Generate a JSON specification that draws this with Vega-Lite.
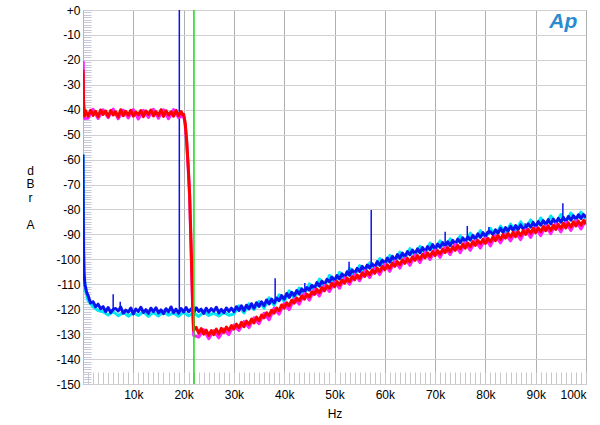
{
  "$schema": "https://vega.github.io/schema/vega-lite/v6.json",
  "width": 503,
  "height": 374,
  "autosize": "none",
  "padding": {"left": 83, "top": 10, "right": 14, "bottom": 41},
  "background": "white",
  "config": {"view": {"stroke": "#9a9a9a", "strokeWidth": 1}},
  "datasets": {
    "blue": [
      {"f":0,"v":-58},{"f":100,"v":-96},{"f":200,"v":-105},{"f":300,"v":-108},{"f":400,"v":-110.5},{"f":500,"v":-111},{"f":700,"v":-113},{"f":1000,"v":-114.5},{"f":1500,"v":-117.5},{"f":2000,"v":-117},{"f":2500,"v":-119},{"f":3000,"v":-118},{"f":3500,"v":-119.8},{"f":4000,"v":-119},{"f":4500,"v":-121},
      {"f":5000,"v":-119.3},{"f":5500,"v":-121.4},{"f":6000,"v":-120.1},{"f":6500,"v":-119.7},{"f":7000,"v":-120.7},{"f":7500,"v":-119.1},{"f":8000,"v":-121.6},{"f":8500,"v":-120.4},{"f":9000,"v":-121.2},{"f":9500,"v":-119.5},
      {"f":10000,"v":-121.9},{"f":10500,"v":-119.9},{"f":11000,"v":-120.9},{"f":11500,"v":-119.2},{"f":12000,"v":-121.3},{"f":12500,"v":-120.2},{"f":13000,"v":-121.7},{"f":13500,"v":-119.6},{"f":14000,"v":-121.0},{"f":14500,"v":-119.4},{"f":15000,"v":-121.5},{"f":15500,"v":-120.3},{"f":16000,"v":-121.8},{"f":16500,"v":-119.8},{"f":17000,"v":-121.1},{"f":17500,"v":-119.1},{"f":18000,"v":-121.4},{"f":18500,"v":-120.0},{"f":19000,"v":-121.6},{"f":19500,"v":-119.7},
      {"f":20000,"v":-121.1},{"f":20500,"v":-119.3},{"f":21000,"v":-121.0},{"f":21500,"v":-119.9},{"f":22000,"v":-121.3},{"f":22500,"v":-119.4},{"f":23000,"v":-120.9},{"f":23500,"v":-120.0},{"f":24000,"v":-121.7},{"f":24500,"v":-119.6},{"f":25000,"v":-121.2},{"f":25500,"v":-119.8},{"f":26000,"v":-120.8},{"f":26500,"v":-119.2},{"f":27000,"v":-121.5},{"f":27500,"v":-120.1},{"f":28000,"v":-121.4},{"f":28500,"v":-119.5},{"f":29000,"v":-120.9},{"f":29500,"v":-119.6},
      {"f":30000,"v":-121.0},{"f":30500,"v":-119.0},{"f":31000,"v":-120.5},{"f":31500,"v":-118.6},{"f":32000,"v":-120.6},{"f":32500,"v":-118.4},{"f":33000,"v":-119.9},{"f":33500,"v":-117.8},{"f":34000,"v":-119.6},{"f":34500,"v":-117.4},{"f":35000,"v":-118.9},{"f":35500,"v":-117.0},{"f":36000,"v":-118.6},{"f":36500,"v":-116.3},{"f":37000,"v":-117.9},{"f":37500,"v":-115.9},{"f":38000,"v":-117.5},{"f":38500,"v":-115.5},{"f":39000,"v":-116.6},{"f":39500,"v":-114.5},
      {"f":40000,"v":-116.0},{"f":40500,"v":-113.7},{"f":41000,"v":-115.3},{"f":41500,"v":-113.2},{"f":42000,"v":-114.6},{"f":42500,"v":-112.5},{"f":43000,"v":-114.0},{"f":43500,"v":-111.8},{"f":44000,"v":-113.2},{"f":44500,"v":-111.3},{"f":45000,"v":-112.4},{"f":45500,"v":-110.4},{"f":46000,"v":-111.6},{"f":46500,"v":-109.3},{"f":47000,"v":-110.8},{"f":47500,"v":-108.7},{"f":48000,"v":-110.1},{"f":48500,"v":-108.0},{"f":49000,"v":-109.1},{"f":49500,"v":-107.1},
      {"f":50000,"v":-108.5},{"f":50500,"v":-106.5},{"f":51000,"v":-107.9},{"f":51500,"v":-105.8},{"f":52000,"v":-107.2},{"f":52500,"v":-105.0},{"f":53000,"v":-106.4},{"f":53500,"v":-104.2},{"f":54000,"v":-105.6},{"f":54500,"v":-103.6},{"f":55000,"v":-104.9},{"f":55500,"v":-102.8},{"f":56000,"v":-104.3},{"f":56500,"v":-102.3},{"f":57000,"v":-103.5},{"f":57500,"v":-101.8},{"f":58000,"v":-103.1},{"f":58500,"v":-100.9},{"f":59000,"v":-102.4},{"f":59500,"v":-100.3},
      {"f":60000,"v":-101.6},{"f":60500,"v":-99.5},{"f":61000,"v":-101.1},{"f":61500,"v":-98.8},{"f":62000,"v":-100.3},{"f":62500,"v":-98.1},{"f":63000,"v":-99.6},{"f":63500,"v":-97.5},{"f":64000,"v":-98.9},{"f":64500,"v":-96.9},{"f":65000,"v":-98.2},{"f":65500,"v":-96.3},{"f":66000,"v":-97.7},{"f":66500,"v":-95.8},{"f":67000,"v":-97.4},{"f":67500,"v":-95.3},{"f":68000,"v":-96.9},{"f":68500,"v":-94.9},{"f":69000,"v":-96.2},{"f":69500,"v":-94.1},
      {"f":70000,"v":-95.8},{"f":70500,"v":-93.9},{"f":71000,"v":-95.2},{"f":71500,"v":-93.3},{"f":72000,"v":-94.6},{"f":72500,"v":-93.0},{"f":73000,"v":-94.5},{"f":73500,"v":-92.4},{"f":74000,"v":-93.9},{"f":74500,"v":-91.9},{"f":75000,"v":-93.3},{"f":75500,"v":-91.4},{"f":76000,"v":-92.8},{"f":76500,"v":-91.0},{"f":77000,"v":-92.3},{"f":77500,"v":-90.4},{"f":78000,"v":-91.8},{"f":78500,"v":-89.8},{"f":79000,"v":-91.2},{"f":79500,"v":-89.3},
      {"f":80000,"v":-90.7},{"f":80500,"v":-89.0},{"f":81000,"v":-88.9},{"f":81500,"v":-90.1},{"f":82000,"v":-88.2},{"f":82500,"v":-89.6},{"f":83000,"v":-87.6},{"f":83500,"v":-89.2},{"f":84000,"v":-87.3},{"f":84500,"v":-88.7},{"f":85000,"v":-86.8},{"f":85500,"v":-88.4},{"f":86000,"v":-86.5},{"f":86500,"v":-88.1},{"f":87000,"v":-86.2},{"f":87500,"v":-87.8},{"f":88000,"v":-87.3},{"f":88500,"v":-85.8},{"f":89000,"v":-87.1},{"f":89500,"v":-85.2},
      {"f":90000,"v":-86.9},{"f":90500,"v":-84.9},{"f":91000,"v":-86.3},{"f":91500,"v":-84.5},{"f":92000,"v":-86.0},{"f":92500,"v":-84.1},{"f":93000,"v":-85.8},{"f":93500,"v":-83.9},{"f":94000,"v":-85.4},{"f":94500,"v":-83.6},{"f":95000,"v":-85.1},{"f":95500,"v":-83.2},{"f":96000,"v":-84.8},{"f":96500,"v":-82.8},{"f":97000,"v":-84.3},{"f":97500,"v":-82.5},{"f":98000,"v":-83.9},{"f":98500,"v":-82.1},{"f":99000,"v":-83.6},{"f":99500,"v":-82.0},{"f":100000,"v":-83.2}
    ],
    "spikes": [
      {"f":6000,"v":-114,"v2":-120.5},{"f":7400,"v":-117,"v2":-120.5},{"f":19150,"v":0,"v2":-121},{"f":38200,"v":-107.6,"v2":-116.5},{"f":44100,"v":-109.5,"v2":-112.5},{"f":52900,"v":-101,"v2":-106},{"f":57300,"v":-80.2,"v2":-102.5},{"f":72000,"v":-88.9,"v2":-94},{"f":76400,"v":-86.6,"v2":-92},{"f":80700,"v":-87,"v2":-90},{"f":87900,"v":-85.5,"v2":-87},{"f":95400,"v":-77.5,"v2":-84}
    ],
    "cyan": [
      {"f":0,"v":-58},{"f":200,"v":-106},{"f":500,"v":-112.5},{"f":1000,"v":-116.5},{"f":2000,"v":-119},{"f":3000,"v":-120.5},{"f":4000,"v":-121},{"f":5000,"v":-122.3},{"f":6000,"v":-121.0},{"f":7000,"v":-122.6},{"f":8000,"v":-121.2},{"f":9000,"v":-122.8},{"f":10000,"v":-121.4},{"f":11000,"v":-122.5},{"f":12000,"v":-121.0},{"f":13000,"v":-122.9},{"f":14000,"v":-121.3},{"f":15000,"v":-122.7},{"f":16000,"v":-121.1},{"f":17000,"v":-122.4},{"f":18000,"v":-121.5},{"f":19000,"v":-122.8},{"f":20000,"v":-121.2},{"f":21000,"v":-122.6},{"f":22000,"v":-121.4},{"f":23000,"v":-122.9},{"f":24000,"v":-121.0},{"f":25000,"v":-122.5},{"f":26000,"v":-121.6},{"f":27000,"v":-122.7},{"f":28000,"v":-121.3},{"f":29000,"v":-122.4},
      {"f":30000,"v":-121.9},{"f":31000,"v":-118.6},{"f":32000,"v":-121.5},{"f":33000,"v":-117.8},{"f":34000,"v":-120.2},{"f":35000,"v":-116.9},{"f":36000,"v":-119.6},{"f":37000,"v":-115.4},{"f":38000,"v":-118.5},{"f":39000,"v":-114.2},{"f":40000,"v":-117.0},{"f":41000,"v":-112.6},{"f":42000,"v":-115.8},{"f":43000,"v":-111.5},{"f":44000,"v":-114.2},{"f":45000,"v":-109.8},{"f":46000,"v":-112.4},{"f":47000,"v":-107.9},{"f":48000,"v":-111.0},{"f":49000,"v":-106.4},{"f":50000,"v":-109.4},{"f":51000,"v":-105.2},{"f":52000,"v":-108.0},{"f":53000,"v":-103.6},{"f":54000,"v":-106.7},{"f":55000,"v":-102.5},{"f":56000,"v":-105.3},{"f":57000,"v":-101.4},{"f":58000,"v":-103.9},{"f":59000,"v":-99.7},{"f":60000,"v":-102.6},{"f":61000,"v":-98.4},{"f":62000,"v":-101.2},{"f":63000,"v":-97.1},{"f":64000,"v":-99.9},{"f":65000,"v":-95.7},{"f":66000,"v":-98.7},{"f":67000,"v":-94.8},{"f":68000,"v":-97.6},{"f":69000,"v":-93.5},{"f":70000,"v":-96.7},{"f":71000,"v":-92.6},{"f":72000,"v":-95.5},{"f":73000,"v":-91.8},{"f":74000,"v":-94.4},{"f":75000,"v":-90.6},{"f":76000,"v":-93.6},{"f":77000,"v":-89.5},{"f":78000,"v":-92.4},{"f":79000,"v":-88.5},{"f":80000,"v":-91.6},{"f":81000,"v":-87.6},{"f":82000,"v":-90.3},{"f":83000,"v":-86.7},{"f":84000,"v":-89.5},{"f":85000,"v":-85.9},{"f":86000,"v":-88.7},{"f":87000,"v":-85.0},{"f":88000,"v":-87.8},{"f":89000,"v":-84.2},{"f":90000,"v":-87.2},{"f":91000,"v":-83.4},{"f":92000,"v":-86.4},{"f":93000,"v":-82.6},{"f":94000,"v":-85.6},{"f":95000,"v":-82.0},{"f":96000,"v":-85.0},{"f":97000,"v":-81.4},{"f":98000,"v":-84.3},{"f":99000,"v":-81.0},{"f":100000,"v":-84.0}
    ],
    "red": [
      {"f":0,"v":-24},{"f":50,"v":-26},{"f":100,"v":-36},{"f":200,"v":-40},{"f":300,"v":-42.5},{"f":500,"v":-40.4},{"f":1000,"v":-42.6},{"f":1500,"v":-40.2},{"f":2000,"v":-42.3},{"f":2500,"v":-40.6},{"f":3000,"v":-42.8},{"f":3500,"v":-40.1},{"f":4000,"v":-41.9},{"f":4500,"v":-40.5},{"f":5000,"v":-42.7},{"f":5500,"v":-40.3},{"f":6000,"v":-42.1},{"f":6500,"v":-40.8},{"f":7000,"v":-42.9},{"f":7500,"v":-40.0},{"f":8000,"v":-42.4},{"f":8500,"v":-40.6},{"f":9000,"v":-42.2},{"f":9500,"v":-40.2},
      {"f":10000,"v":-42.6},{"f":10500,"v":-40.9},{"f":11000,"v":-42.0},{"f":11500,"v":-40.3},{"f":12000,"v":-42.8},{"f":12500,"v":-40.5},{"f":13000,"v":-41.9},{"f":13500,"v":-40.1},{"f":14000,"v":-42.5},{"f":14500,"v":-40.7},{"f":15000,"v":-42.3},{"f":15500,"v":-40.0},{"f":16000,"v":-42.7},{"f":16500,"v":-40.4},{"f":17000,"v":-42.1},{"f":17500,"v":-40.8},{"f":18000,"v":-42.6},{"f":18500,"v":-40.3},{"f":19000,"v":-42.4},{"f":19500,"v":-40.7},{"f":19800,"v":-42.0},
      {"f":20000,"v":-41.8},{"f":20300,"v":-45},{"f":20600,"v":-52},{"f":20900,"v":-62},{"f":21200,"v":-74},{"f":21500,"v":-95},{"f":21800,"v":-118},{"f":22000,"v":-128.5},{"f":22500,"v":-127.3},{"f":23000,"v":-129.6},{"f":23500,"v":-127.8},{"f":24000,"v":-130.0},{"f":24500,"v":-128.4},{"f":25000,"v":-130.5},{"f":25500,"v":-128.6},{"f":26000,"v":-130.2},{"f":26500,"v":-128.0},{"f":27000,"v":-129.9},{"f":27500,"v":-127.7},{"f":28000,"v":-129.3},{"f":28500,"v":-127.2},{"f":29000,"v":-128.5},{"f":29500,"v":-126.6},
      {"f":30000,"v":-128.0},{"f":30500,"v":-126.0},{"f":31000,"v":-127.4},{"f":31500,"v":-125.3},{"f":32000,"v":-127.0},{"f":32500,"v":-124.8},{"f":33000,"v":-126.1},{"f":33500,"v":-124.0},{"f":34000,"v":-125.5},{"f":34500,"v":-123.2},{"f":35000,"v":-124.6},{"f":35500,"v":-122.4},{"f":36000,"v":-123.5},{"f":36500,"v":-121.4},{"f":37000,"v":-122.6},{"f":37500,"v":-120.4},{"f":38000,"v":-121.6},{"f":38500,"v":-119.5},{"f":39000,"v":-120.6},{"f":39500,"v":-118.3},
      {"f":40000,"v":-119.6},{"f":40500,"v":-117.4},{"f":41000,"v":-118.6},{"f":41500,"v":-116.4},{"f":42000,"v":-117.6},{"f":42500,"v":-115.5},{"f":43000,"v":-116.6},{"f":43500,"v":-114.6},{"f":44000,"v":-116.0},{"f":44500,"v":-113.9},{"f":45000,"v":-115.1},{"f":45500,"v":-113.0},{"f":46000,"v":-114.1},{"f":46500,"v":-112.0},{"f":47000,"v":-113.4},{"f":47500,"v":-111.3},{"f":48000,"v":-112.6},{"f":48500,"v":-110.6},{"f":49000,"v":-111.6},{"f":49500,"v":-109.6},
      {"f":50000,"v":-111.0},{"f":50500,"v":-108.9},{"f":51000,"v":-110.3},{"f":51500,"v":-108.3},{"f":52000,"v":-109.6},{"f":52500,"v":-107.5},{"f":53000,"v":-108.9},{"f":53500,"v":-106.9},{"f":54000,"v":-108.2},{"f":54500,"v":-106.3},{"f":55000,"v":-107.6},{"f":55500,"v":-105.4},{"f":56000,"v":-106.9},{"f":56500,"v":-104.8},{"f":57000,"v":-106.2},{"f":57500,"v":-104.2},{"f":58000,"v":-105.6},{"f":58500,"v":-103.5},{"f":59000,"v":-104.9},{"f":59500,"v":-102.8},
      {"f":60000,"v":-104.2},{"f":60500,"v":-102.2},{"f":61000,"v":-103.6},{"f":61500,"v":-101.5},{"f":62000,"v":-102.8},{"f":62500,"v":-100.9},{"f":63000,"v":-102.2},{"f":63500,"v":-100.2},{"f":64000,"v":-101.6},{"f":64500,"v":-99.6},{"f":65000,"v":-101.0},{"f":65500,"v":-99.0},{"f":66000,"v":-100.4},{"f":66500,"v":-98.5},{"f":67000,"v":-100.0},{"f":67500,"v":-98.0},{"f":68000,"v":-99.4},{"f":68500,"v":-97.4},{"f":69000,"v":-98.9},{"f":69500,"v":-96.9},
      {"f":70000,"v":-98.5},{"f":70500,"v":-96.5},{"f":71000,"v":-97.9},{"f":71500,"v":-95.9},{"f":72000,"v":-97.3},{"f":72500,"v":-95.3},{"f":73000,"v":-96.9},{"f":73500,"v":-95.0},{"f":74000,"v":-96.4},{"f":74500,"v":-94.4},{"f":75000,"v":-95.8},{"f":75500,"v":-93.9},{"f":76000,"v":-95.5},{"f":76500,"v":-93.5},{"f":77000,"v":-94.9},{"f":77500,"v":-92.9},{"f":78000,"v":-94.4},{"f":78500,"v":-92.4},{"f":79000,"v":-93.8},{"f":79500,"v":-92.0},
      {"f":80000,"v":-93.6},{"f":80500,"v":-91.6},{"f":81000,"v":-93.0},{"f":81500,"v":-91.0},{"f":82000,"v":-92.5},{"f":82500,"v":-90.4},{"f":83000,"v":-92.0},{"f":83500,"v":-90.1},{"f":84000,"v":-91.5},{"f":84500,"v":-89.6},{"f":85000,"v":-91.0},{"f":85500,"v":-89.2},{"f":86000,"v":-90.9},{"f":86500,"v":-88.9},{"f":87000,"v":-90.5},{"f":87500,"v":-88.5},{"f":88000,"v":-90.0},{"f":88500,"v":-88.0},{"f":89000,"v":-89.6},{"f":89500,"v":-87.6},
      {"f":90000,"v":-89.3},{"f":90500,"v":-87.4},{"f":91000,"v":-88.9},{"f":91500,"v":-86.9},{"f":92000,"v":-88.5},{"f":92500,"v":-86.6},{"f":93000,"v":-88.4},{"f":93500,"v":-86.4},{"f":94000,"v":-88.0},{"f":94500,"v":-86.0},{"f":95000,"v":-87.6},{"f":95500,"v":-85.6},{"f":96000,"v":-87.4},{"f":96500,"v":-85.4},{"f":97000,"v":-87.0},{"f":97500,"v":-85.0},{"f":98000,"v":-86.6},{"f":98500,"v":-84.7},{"f":99000,"v":-86.3},{"f":99500,"v":-84.4},{"f":100000,"v":-85.9}
    ],
    "magenta": [
      {"f":0,"v":-20.5},{"f":50,"v":-21},{"f":100,"v":-38},{"f":300,"v":-43.5},{"f":1000,"v":-43.4},{"f":2000,"v":-39.8},{"f":3000,"v":-43.5},{"f":4000,"v":-40.0},{"f":5000,"v":-43.2},{"f":6000,"v":-39.7},{"f":7000,"v":-43.6},{"f":8000,"v":-40.1},{"f":9000,"v":-43.3},{"f":10000,"v":-39.9},{"f":11000,"v":-43.7},{"f":12000,"v":-40.2},{"f":13000,"v":-43.1},{"f":14000,"v":-39.8},{"f":15000,"v":-43.4},{"f":16000,"v":-40.0},{"f":17000,"v":-43.6},{"f":18000,"v":-39.9},{"f":19000,"v":-43.2},{"f":19800,"v":-42.5},
      {"f":20000,"v":-42.2},{"f":20300,"v":-46},{"f":20600,"v":-53},{"f":20900,"v":-63},{"f":21200,"v":-75},{"f":21500,"v":-97},{"f":21800,"v":-120},{"f":22000,"v":-130.5},{"f":23000,"v":-131.2},{"f":24000,"v":-128.2},{"f":25000,"v":-131.8},{"f":26000,"v":-128.6},{"f":27000,"v":-131.5},{"f":28000,"v":-128.0},{"f":29000,"v":-130.2},
      {"f":30000,"v":-126.4},{"f":31000,"v":-128.5},{"f":32000,"v":-125.0},{"f":33000,"v":-127.4},{"f":34000,"v":-123.5},{"f":35000,"v":-125.8},{"f":36000,"v":-121.6},{"f":37000,"v":-124.3},{"f":38000,"v":-119.6},{"f":39000,"v":-122.0},{"f":40000,"v":-117.7},{"f":41000,"v":-120.2},{"f":42000,"v":-115.8},{"f":43000,"v":-118.0},{"f":44000,"v":-113.6},{"f":45000,"v":-116.4},{"f":46000,"v":-112.0},{"f":47000,"v":-114.7},{"f":48000,"v":-110.4},{"f":49000,"v":-112.9},{"f":50000,"v":-109.0},{"f":51000,"v":-111.6},{"f":52000,"v":-107.4},{"f":53000,"v":-110.0},{"f":54000,"v":-105.9},{"f":55000,"v":-108.6},{"f":56000,"v":-104.5},{"f":57000,"v":-107.3},{"f":58000,"v":-103.4},{"f":59000,"v":-106.1},{"f":60000,"v":-101.9},{"f":61000,"v":-104.8},{"f":62000,"v":-100.6},{"f":63000,"v":-103.5},{"f":64000,"v":-99.5},{"f":65000,"v":-102.4},{"f":66000,"v":-98.2},{"f":67000,"v":-101.3},{"f":68000,"v":-97.1},{"f":69000,"v":-100.1},{"f":70000,"v":-96.3},{"f":71000,"v":-99.2},{"f":72000,"v":-95.2},{"f":73000,"v":-98.1},{"f":74000,"v":-94.0},{"f":75000,"v":-97.3},{"f":76000,"v":-93.3},{"f":77000,"v":-96.4},{"f":78000,"v":-92.5},{"f":79000,"v":-95.5},{"f":80000,"v":-91.5},{"f":81000,"v":-94.6},{"f":82000,"v":-90.5},{"f":83000,"v":-93.4},{"f":84000,"v":-89.8},{"f":85000,"v":-92.6},{"f":86000,"v":-89.0},{"f":87000,"v":-92.1},{"f":88000,"v":-88.1},{"f":89000,"v":-91.2},{"f":90000,"v":-87.4},{"f":91000,"v":-90.5},{"f":92000,"v":-86.6},{"f":93000,"v":-89.7},{"f":94000,"v":-85.8},{"f":95000,"v":-89.0},{"f":96000,"v":-85.2},{"f":97000,"v":-88.4},{"f":98000,"v":-84.5},{"f":99000,"v":-87.8},{"f":100000,"v":-84.2}
    ],
    "marker": [{"f":22050,"v":0,"v2":-150}],
    "logo": [{"f":95500,"v":-5,"t":"Ap"}]
  },
  "encoding": {
    "x": {
      "field": "f", "type": "quantitative", "title": "Hz",
      "scale": {"domain": [0, 100000], "nice": false, "zero": false},
      "axis": {
        "tickCount": 100, "domain": false, "grid": true,
        "gridColor": "#b0b0b0", "gridWidth": 1,
        "gridOpacity": {"condition": {"test": "datum.value % 10000 === 0", "value": 1}, "value": 0},
        "ticks": true, "tickSize": -12, "tickColor": "#c8c8c8", "tickWidth": 1,
        "labelExpr": "(datum.value % 10000 === 0 && datum.value > 0) ? (datum.value / 1000) + 'k' : ''",
        "labelFlush": true, "labelFlushOffset": 0, "labelOverlap": false, "labelBound": false,
        "labelFont": "Liberation Sans", "labelFontSize": 12, "labelColor": "#000000", "labelPadding": 17,
        "titleFont": "Liberation Sans", "titleFontSize": 12, "titleFontWeight": "normal", "titleColor": "#000000", "titlePadding": 8
      }
    },
    "y": {
      "field": "v", "type": "quantitative", "title": ["d", "B", "r", "\u200b", "A"],
      "scale": {"domain": [-150, 0], "nice": false, "zero": false},
      "axis": {
        "tickCount": 150, "domain": false, "grid": true,
        "gridColor": "#d0d0d0", "gridWidth": 1,
        "gridOpacity": {"condition": {"test": "datum.value % 10 === 0", "value": 1}, "value": 0},
        "ticks": true, "tickSize": -8, "tickColor": "#c8c8dc", "tickWidth": 1,
        "labelExpr": "datum.value % 10 === 0 ? (datum.value === 0 ? '+0' : '' + datum.value) : ''",
        "labelOverlap": false, "labelBound": false, "labelFlush": false,
        "labelFont": "Liberation Sans", "labelFontSize": 12, "labelColor": "#000000", "labelPadding": 11,
        "titleFont": "Liberation Sans", "titleFontSize": 12, "titleFontWeight": "normal", "titleColor": "#000000",
        "titleAngle": 0, "titleAlign": "center", "titleBaseline": "middle", "titleX": -53, "titleY": 160, "titleLineHeight": 13.5
      }
    }
  },
  "layer": [
    {"data": {"name": "cyan"}, "mark": {"type": "line", "color": "#00e8f0", "strokeWidth": 3, "strokeJoin": "round", "clip": true}},
    {"data": {"name": "blue"}, "mark": {"type": "line", "color": "#0a14f0", "strokeWidth": 3, "strokeJoin": "round", "clip": true}},
    {"data": {"name": "spikes"}, "mark": {"type": "rule", "color": "#0a14f0", "strokeWidth": 1.5}, "encoding": {"y2": {"field": "v2"}}},
    {"data": {"name": "magenta"}, "mark": {"type": "line", "color": "#ff20ff", "strokeWidth": 3, "strokeJoin": "round", "clip": true}},
    {"data": {"name": "red"}, "mark": {"type": "line", "color": "#ff0000", "strokeWidth": 3, "strokeJoin": "round", "clip": true}},
    {"data": {"name": "marker"}, "mark": {"type": "rule", "color": "#10e010", "strokeWidth": 1.5}, "encoding": {"y2": {"field": "v2"}}},
    {"data": {"name": "logo"}, "mark": {"type": "text", "color": "#2a8cd0", "font": "Liberation Sans", "fontSize": 21, "fontStyle": "italic", "fontWeight": "bold", "align": "center", "baseline": "middle"}, "encoding": {"text": {"field": "t"}}}
  ]
}
